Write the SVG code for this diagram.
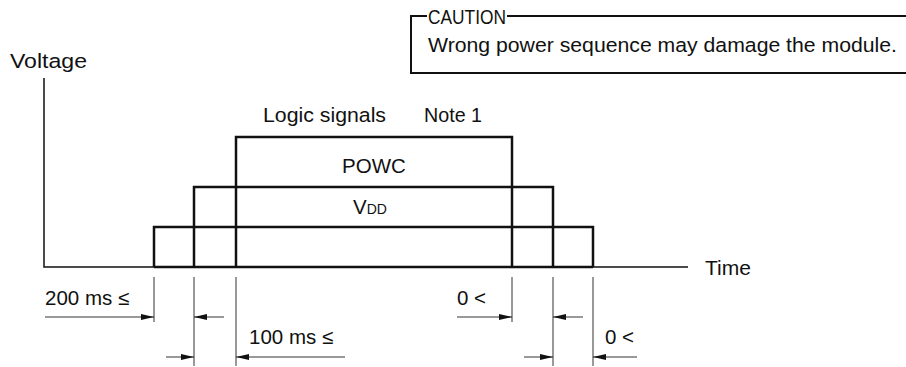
<svg xmlns="http://www.w3.org/2000/svg" width="906" height="367" viewBox="0 0 906 367">
<defs>
<style>
text{font-family:"Liberation Sans",Arial,sans-serif;font-size:20.5px;fill:#111}
.sig{fill:none;stroke:#111;stroke-width:2.5}
.ax{fill:none;stroke:#111;stroke-width:1.5}
.dim{fill:none;stroke:#333;stroke-width:1}
.box{fill:none;stroke:#111;stroke-width:2}
</style>
<marker id="ah" viewBox="0 0 13 6" refX="13" refY="3" markerWidth="13" markerHeight="6" markerUnits="userSpaceOnUse" orient="auto">
<path d="M0,0 L13,3 L0,6 Z" fill="#111"/>
</marker>
</defs>
<rect width="906" height="367" fill="#fff"/>
<g id="caution">
<path class="box" d="M427,16 H411 V73 H906 M507,16 H906"/>
<text x="428" y="24" textLength="78" lengthAdjust="spacingAndGlyphs">CAUTION</text>
<text x="428" y="52" textLength="469" lengthAdjust="spacingAndGlyphs">Wrong power sequence may damage the module.</text>
</g>
<g id="axes">
<path class="ax" d="M44,78 V267 H688"/>
<text x="10" y="68" textLength="77" lengthAdjust="spacingAndGlyphs">Voltage</text>
<text x="705" y="275" textLength="46" lengthAdjust="spacingAndGlyphs">Time</text>
</g>
<g id="supply">
<path class="sig" d="M154,267 V227 H593 V267"/>
</g>
<g id="vdd">
<path class="sig" d="M194,267 V187 H553 V267"/>
<text x="353" y="214">V<tspan font-size="14">DD</tspan></text>
</g>
<g id="powc">
<path class="sig" d="M236,267 V137 H512 V267"/>
<text x="374" y="173" text-anchor="middle">POWC</text>
<text x="263" y="122" textLength="123" lengthAdjust="spacingAndGlyphs">Logic signals</text>
<text x="424" y="122" textLength="58" lengthAdjust="spacingAndGlyphs">Note 1</text>
</g>
<g id="baseline">
<path class="sig" d="M154,267 H593"/>
</g>
<g id="connectors">
<path class="dim" d="M154,277 V322 M194,277 V366 M236,277 V366 M512,277 V322 M553,277 V366 M593,277 V366"/>
<path class="dim" d="M45,317 H154" marker-end="url(#ah)"/>
<path class="dim" d="M224,317 H194" marker-end="url(#ah)"/>
<path class="dim" d="M166,357 H194" marker-end="url(#ah)"/>
<path class="dim" d="M345,357 H236" marker-end="url(#ah)"/>
<path class="dim" d="M457,317 H512" marker-end="url(#ah)"/>
<path class="dim" d="M583,317 H553" marker-end="url(#ah)"/>
<path class="dim" d="M524,357 H553" marker-end="url(#ah)"/>
<path class="dim" d="M637,357 H593" marker-end="url(#ah)"/>
<text x="45" y="305">200 ms ≤</text>
<text x="249" y="344">100 ms ≤</text>
<text x="457" y="305">0 &lt;</text>
<text x="605" y="344">0 &lt;</text>
</g>
</svg>
